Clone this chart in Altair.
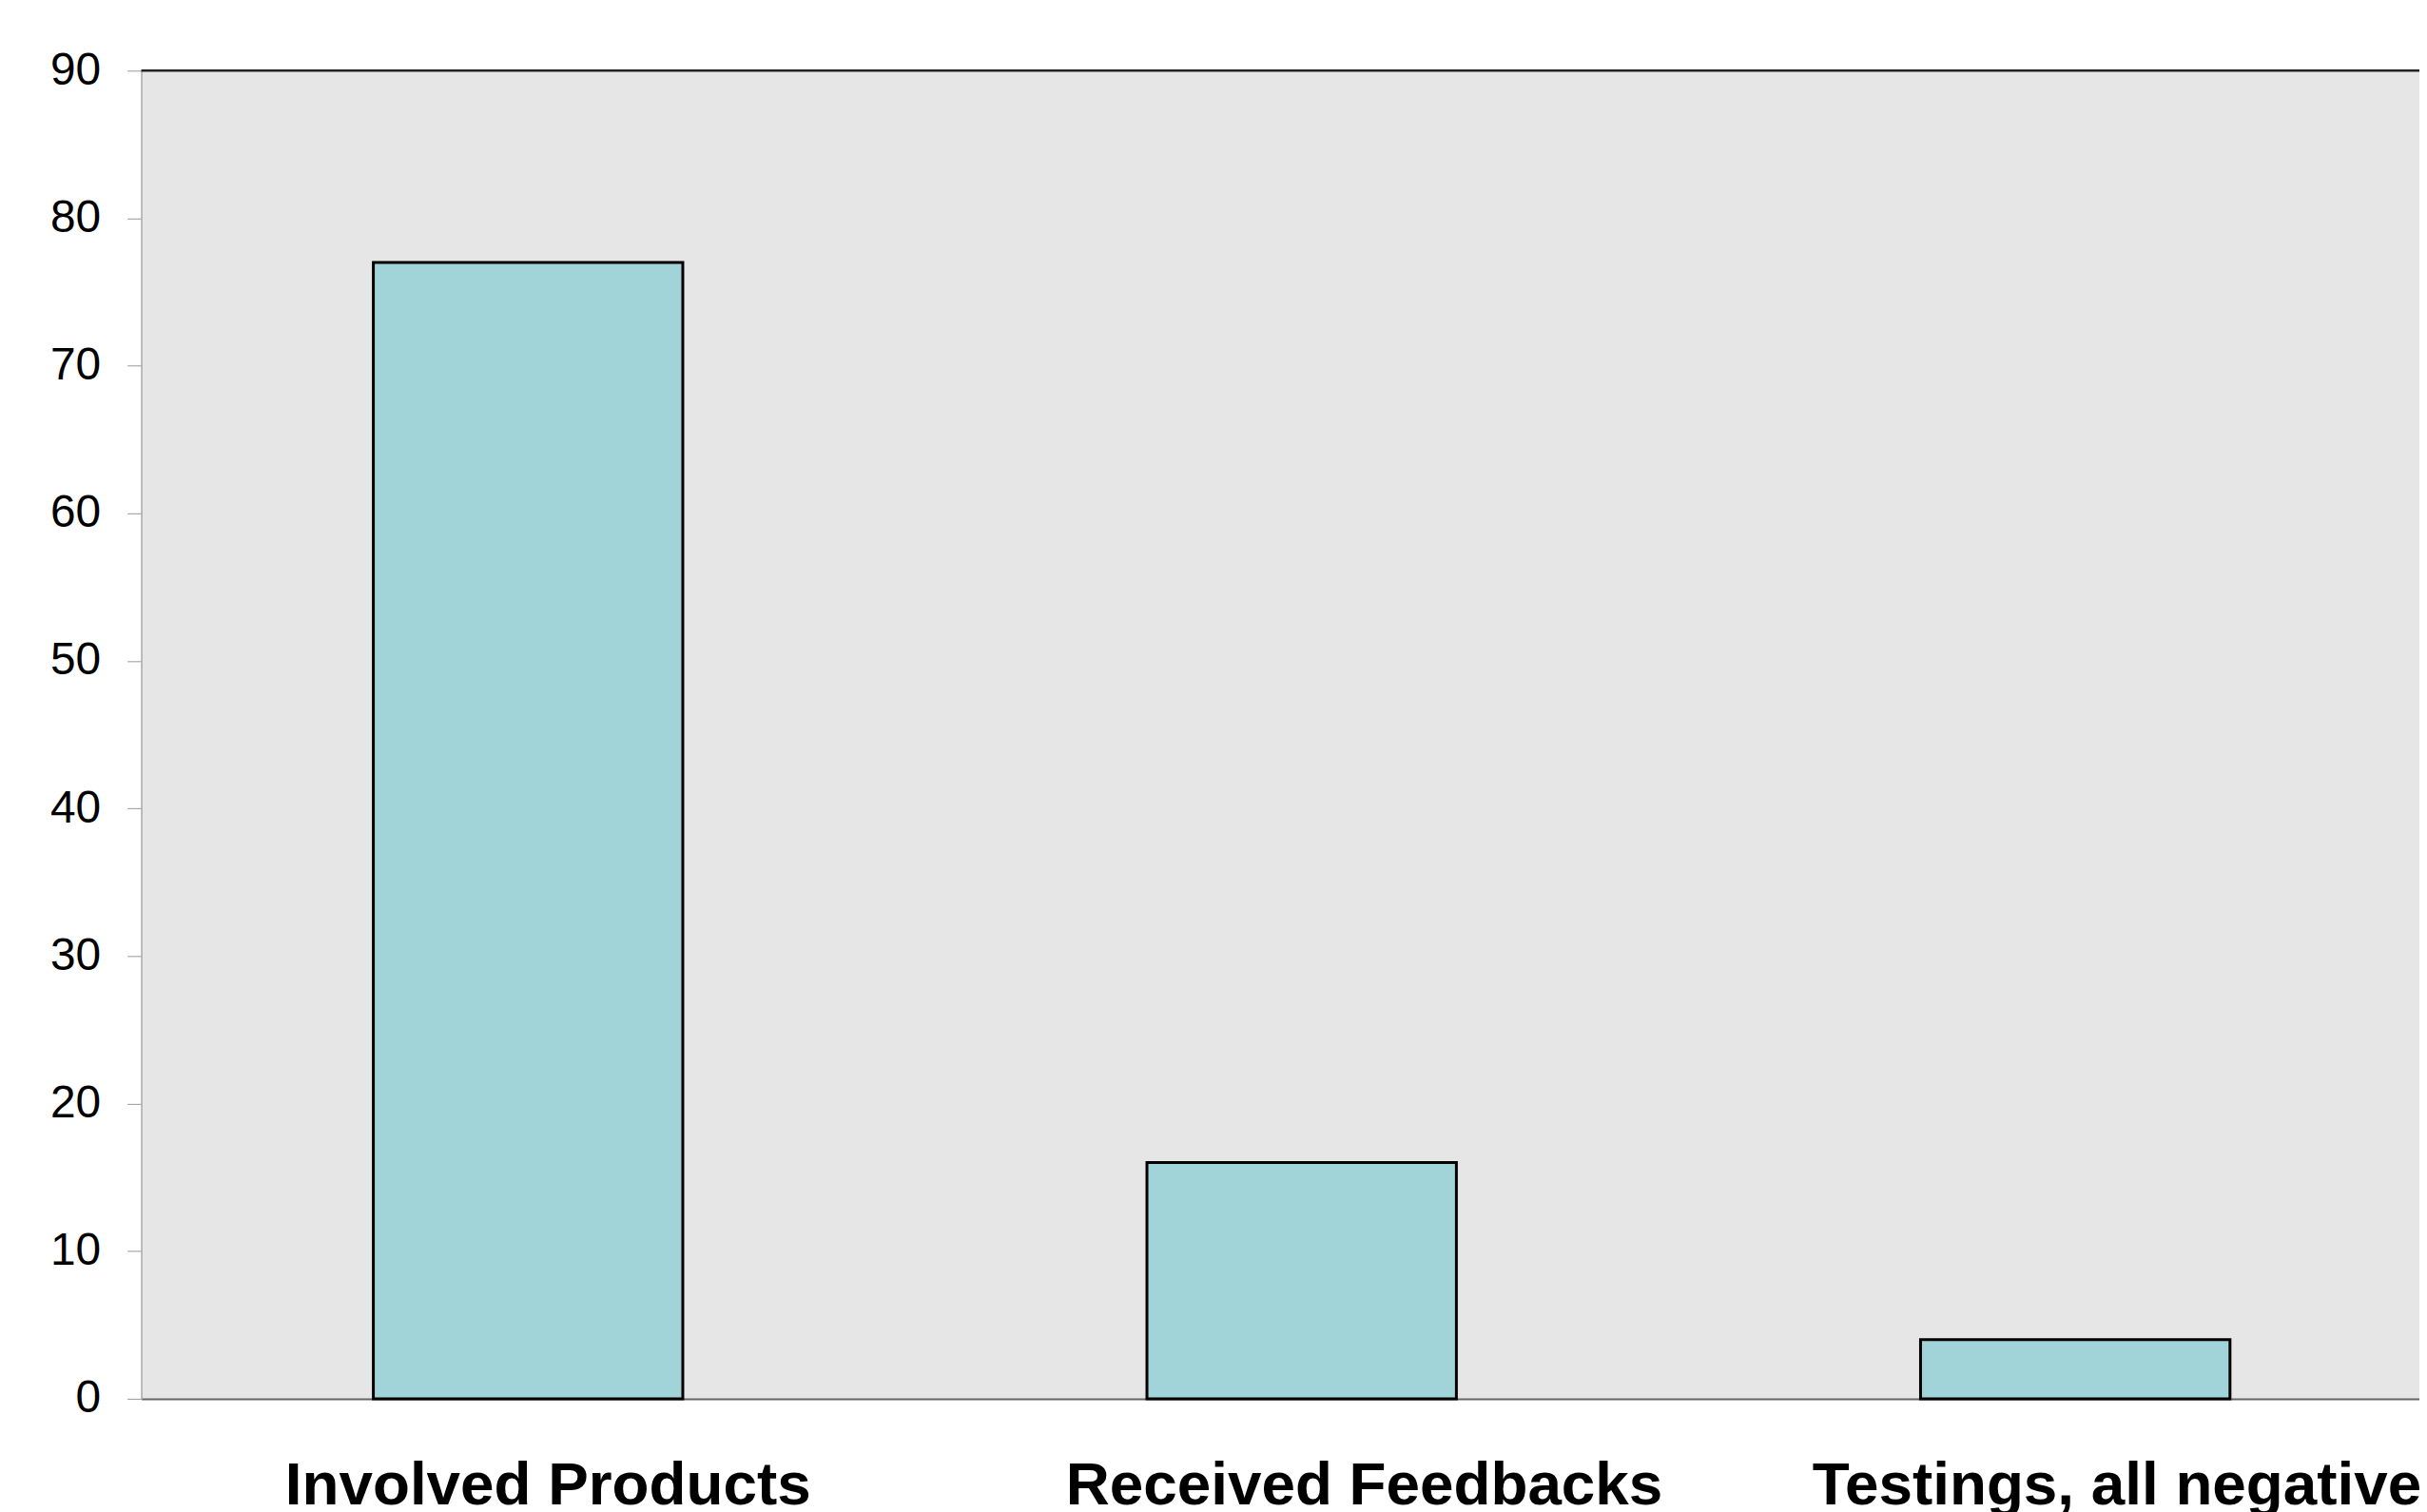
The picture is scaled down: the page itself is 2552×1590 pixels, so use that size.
import altair as alt
import pandas as pd

categories = ["Involved Products", "Received Feedbacks", "Testings, all negative"]
values = [77, 16, 4]
y_ticks = [0, 10, 20, 30, 40, 50, 60, 70, 80, 90]

df = pd.DataFrame({"category": categories, "value": values})
top_df = pd.DataFrame({"y": [90]})

FONT = "Liberation Sans"

label_offset = {
    "condition": [
        {"test": "datum.value == 'Involved Products'", "value": 21},
        {"test": "datum.value == 'Received Feedbacks'", "value": 66},
    ],
    "value": 44,
}

bars = alt.Chart(df).mark_bar(
    color="#a0d4d8", stroke="black", strokeWidth=3
).encode(
    x=alt.X(
        "category:N",
        sort=categories,
        scale=alt.Scale(range=[0, 2448], paddingInner=0.6, paddingOuter=0.3),
        axis=alt.Axis(
            title=None, labelAngle=0, labelFontSize=64, labelFontWeight="bold",
            labelFont=FONT, labelColor="black", ticks=False, tickSize=0,
            labelPadding=60, domainColor="#666666", domainWidth=2,
            labelOffset=label_offset, labelLimit=0, labelOverlap=False,
            labelBound=False, labelFlush=False,
        ),
    ),
    y=alt.Y(
        "value:Q",
        scale=alt.Scale(domain=[0, 90], nice=False),
        axis=alt.Axis(
            title=None, values=y_ticks, grid=False, tickSize=15,
            tickColor="#999999", domainColor="#aaaaaa", domainWidth=1.5,
            labelFontSize=48, labelPadding=28, labelColor="black", labelFont=FONT,
        ),
    ),
)

top = alt.Chart(top_df).mark_rule(color="#222222", strokeWidth=2.5).encode(
    y=alt.Y("y:Q")
)

chart = alt.layer(bars, top).properties(
    width=2403,
    height=1401,
    autosize=alt.AutoSizeParams(type="none"),
    padding={"left": 141, "top": 64, "right": 0, "bottom": 117},
).configure_view(fill="#e6e6e6", stroke=None)

chart.save("out.html", embed_options={"renderer": "svg", "actions": False})
